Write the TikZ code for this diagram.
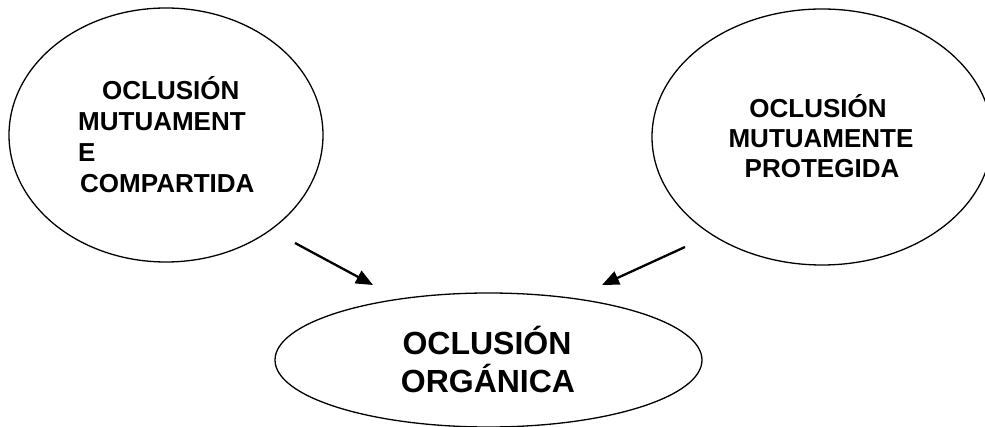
\documentclass[tikz,border=0pt]{standalone}
\usepackage{fontspec}
\setmainfont{Liberation Sans}
\usetikzlibrary{shapes.geometric,arrows.meta}
\tikzset{
  bubble/.style={ellipse, draw=black, line width=1.3pt, inner sep=0pt},
  smalltxt/.style={font=\bfseries\fontsize{26}{31}\selectfont, inner sep=0pt},
  bigtxt/.style={font=\bfseries\fontsize{32}{37}\selectfont, inner sep=0pt},
  link/.style={line width=2.3pt, -{Triangle[length=17pt,width=14pt]}}
}
\begin{document}
\begin{tikzpicture}[x=1pt,y=-1pt]
\useasboundingbox (0,0) rectangle (985,427);
% ellipses
\node[bubble, minimum width=314pt, minimum height=254pt] (left) at (166,135) {};
\node[bubble, minimum width=340pt, minimum height=256pt] (right) at (822,137) {};
\node[bubble, minimum width=427pt, minimum height=134pt] (bottom) at (488.5,360) {};
% left text
\node[smalltxt, anchor=base west] (l1) at (102,100) {OCLUSIÓN};
\node[smalltxt, anchor=base west] (l2) at (78,131) {MUTUAMENT};
\node[smalltxt, anchor=base west] (l3) at (78,162) {E};
\node[smalltxt, anchor=base west] (l4) at (80,193) {COMPARTIDA};
% right text
\node[smalltxt, anchor=base] (r1) at (818,118) {OCLUSIÓN};
\node[smalltxt, anchor=base] (r2) at (821,148) {MUTUAMENTE};
\node[smalltxt, anchor=base] (r3) at (822,178) {PROTEGIDA};
% bottom text
\node[bigtxt, anchor=base] (b1) at (487,355) {OCLUSIÓN};
\node[bigtxt, anchor=base] (b2) at (488,392) {ORGÁNICA};
% arrows
\coordinate (la) at (295,243);
\coordinate (lb) at (373,285);
\coordinate (ra) at (685,247);
\coordinate (rb) at (602,285);
\draw[link] (la) -- (lb);
\draw[link] (ra) -- (rb);
\end{tikzpicture}
\end{document}
